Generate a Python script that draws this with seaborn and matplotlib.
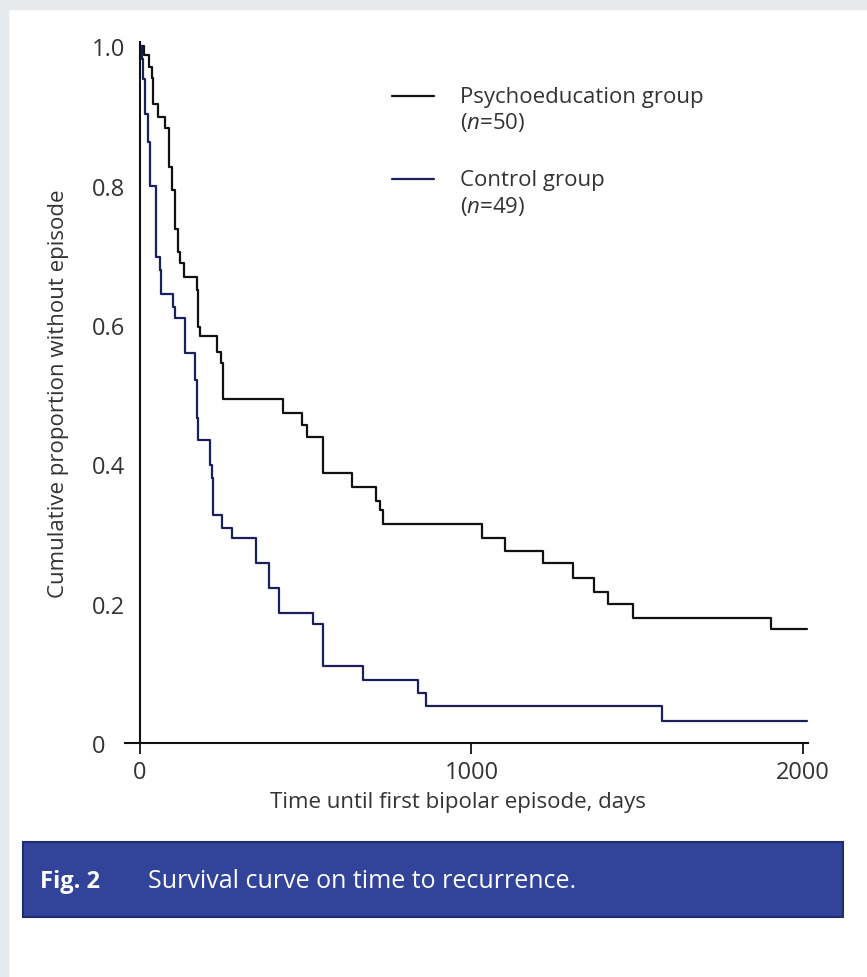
import numpy as np
import pandas as pd
import matplotlib
matplotlib.use('Agg')
import matplotlib.pyplot as plt
import seaborn as sns
from matplotlib.patches import Rectangle
from matplotlib.lines import Line2D
from matplotlib.legend_handler import HandlerLine2D

sns.set_theme(style='white')
plt.rcParams['font.family'] = ['Open Sans', 'DejaVu Sans']
plt.rcParams['mathtext.fontset'] = 'custom'
plt.rcParams['mathtext.rm'] = 'Open Sans'
plt.rcParams['mathtext.it'] = 'Open Sans:italic'

# step points: day of each drop and the proportion after it
psycho_days = [0, 12, 27, 35, 39, 54, 75, 87, 96, 106, 116, 122, 134, 171, 176, 181, 231, 244, 252, 432,
               488, 503, 553, 639, 712, 724, 734, 1033, 1101, 1217, 1305, 1370, 1413, 1486, 1904, 2011]
psycho_surv = [1.0, 0.988, 0.970, 0.955, 0.917, 0.899, 0.883, 0.826, 0.794, 0.737, 0.704, 0.689, 0.669, 0.650,
               0.597, 0.584, 0.561, 0.546, 0.494, 0.473, 0.456, 0.439, 0.387, 0.367, 0.348, 0.334, 0.314, 0.294,
               0.276, 0.258, 0.237, 0.217, 0.200, 0.180, 0.163, 0.163]
control_days = [0, 5, 8, 14, 23, 29, 49, 60, 65, 100, 106, 136, 166, 171, 176, 211, 216, 221, 249, 277,
                350, 390, 420, 523, 553, 674, 838, 863, 1574, 2012]
control_surv = [1.0, 0.981, 0.953, 0.902, 0.863, 0.800, 0.698, 0.679, 0.645, 0.626, 0.610, 0.560, 0.521, 0.466,
                0.435, 0.399, 0.381, 0.327, 0.309, 0.294, 0.259, 0.223, 0.187, 0.171, 0.111, 0.091, 0.072, 0.053,
                0.032, 0.032]
groups = ['Psychoeducation group\n($\\mathit{n}$=50)', 'Control group\n($\\mathit{n}$=49)']
x_ticks = [0, 1000, 2000]
y_ticks = [0, 0.2, 0.4, 0.6, 0.8, 1.0]
y_ticklabels = ['0', '0.2', '0.4', '0.6', '0.8', '1.0']

df = pd.concat([
    pd.DataFrame({'day': psycho_days, 'surv': psycho_surv, 'group': groups[0]}),
    pd.DataFrame({'day': control_days, 'surv': control_surv, 'group': groups[1]}),
])


# legend line sits level with the first text line, not the middle of the two
class RaisedLine(HandlerLine2D):
    def create_artists(self, legend, orig_handle, xdescent, ydescent, width, height, fontsize, trans):
        arts = super().create_artists(legend, orig_handle, xdescent, ydescent, width, height, fontsize, trans)
        for a in arts:
            if isinstance(a, Line2D):
                a.set_ydata(np.asarray(a.get_ydata()) + 0.45 * fontsize)
        return arts


txt = '#333333'
fs = 16
fig = plt.figure(figsize=(8.67, 9.78), dpi=100)
fig.patch.set_facecolor('white')
# grey page border (left and top)
fig.add_artist(Rectangle((0, 0), 8 / 867, 1, transform=fig.transFigure, color='#e7eaed', zorder=0))
fig.add_artist(Rectangle((0, 1 - 10 / 978), 1, 10 / 978, transform=fig.transFigure, color='#e7eaed', zorder=0))

ax = fig.add_axes([125 / 867, 1 - 744 / 978, 683 / 867, 701 / 978])
ax.set_facecolor('none')
sns.lineplot(data=df, x='day', y='surv', hue='group', palette=['#111111', '#1b1f5c'],
             estimator=None, sort=False, drawstyle='steps-post', linewidth=1.6, legend=False, ax=ax)

ax.set_xlim(-45, 2015)
ax.set_ylim(0, 1.006)
ax.spines['top'].set_visible(False)
ax.spines['right'].set_visible(False)
ax.spines['left'].set_position(('data', 0))
for s in ['left', 'bottom']:
    ax.spines[s].set_color('#111111')
    ax.spines[s].set_linewidth(1.5)

ax.set_xticks(x_ticks)
ax.set_xticklabels([str(t) for t in x_ticks])
ax.set_yticks(y_ticks)
ax.set_yticklabels(y_ticklabels)
ax.tick_params(axis='x', direction='out', length=8, width=1.3, color='#111111', pad=4, labelsize=17, labelcolor=txt, bottom=True)
ax.tick_params(axis='y', length=0, pad=34.5, labelsize=17, labelcolor=txt)
for lab in ax.get_yticklabels():
    lab.set_horizontalalignment('left')

ax.set_xlabel('Time until first bipolar episode, days', fontsize=fs, color=txt)
ax.xaxis.set_label_coords(0.4875, -0.068)
ax.set_ylabel('Cumulative proportion without episode', fontsize=fs, color=txt)
ax.yaxis.set_label_coords(-0.082, 0.5)

lines = ax.get_lines()[:2]
ax.legend(lines, groups, loc='upper left', bbox_to_anchor=(0.362, 0.966), frameon=False,
          fontsize=fs, labelcolor=txt, handlelength=1.9, handleheight=1.8, handletextpad=1.17, labelspacing=1.6,
          handler_map={Line2D: RaisedLine()})

# caption bar
fig.add_artist(Rectangle((23 / 867, 1 - 918 / 978), 820 / 867, 75 / 978, transform=fig.transFigure,
                         facecolor='#31449a', edgecolor='#1f2c6e', linewidth=1.5))
fig.text(40 / 867, 1 - 882 / 978, 'Fig. 2', color='white', fontsize=17, fontweight='bold', va='center')
fig.text(148 / 867, 1 - 882 / 978, 'Survival curve on time to recurrence.', color='white', fontsize=18, va='center')

fig.savefig('out.png', dpi=100)
